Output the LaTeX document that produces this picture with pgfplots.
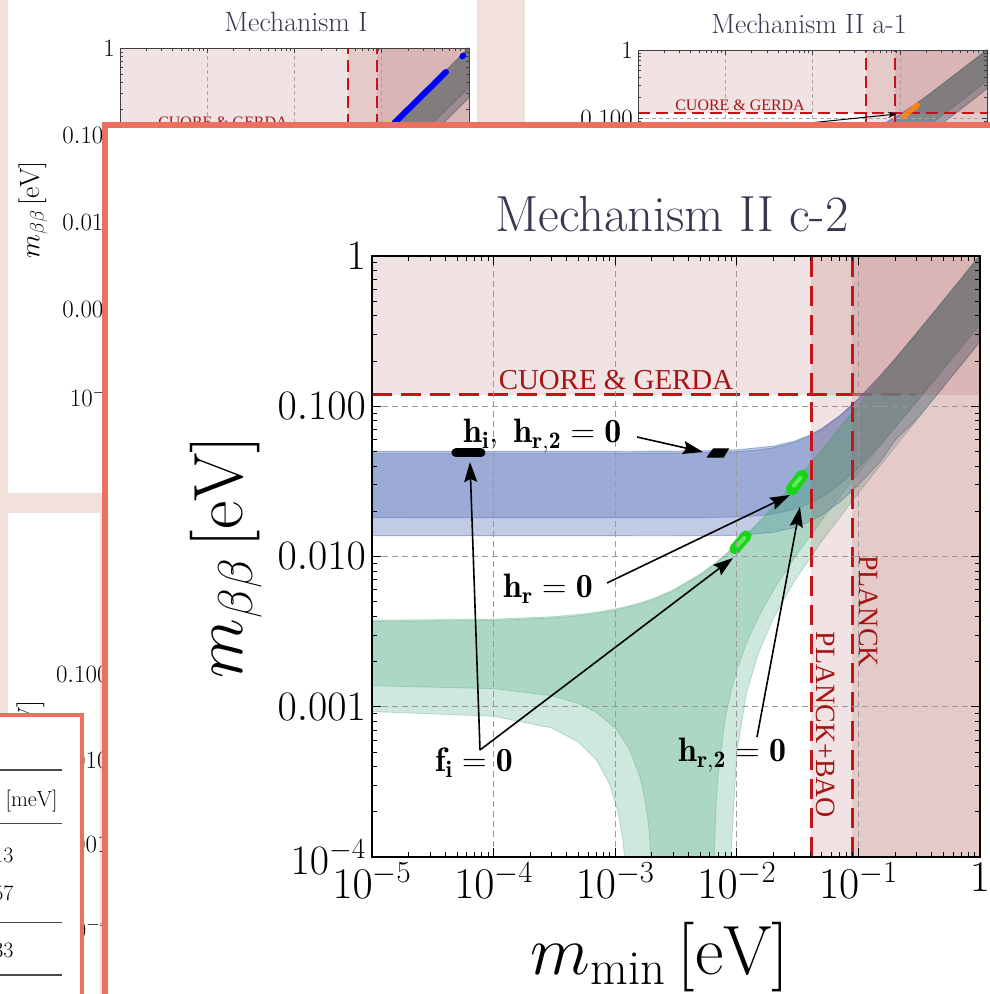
\RequirePackage{fix-cm}
\documentclass[border=0pt]{standalone}
\usepackage{fontspec}
\usepackage{pgfplots}
\pgfplotsset{compat=1.18}
\usepackage{pgfplotstable}
\usetikzlibrary{arrows.meta}
\newfontfamily\timesf{Liberation Serif}
\newcommand{\fsz}[1]{\fontsize{#1}{#1}\selectfont}

\definecolor{bgpink}{RGB}{242,224,218}
\definecolor{frameor}{RGB}{236,112,96}
\definecolor{limc}{RGB}{150,40,40}
\definecolor{limred}{RGB}{195,20,25}
\definecolor{limfade}{RGB}{185,120,110}
\definecolor{iocol}{RGB}{100,125,190}
\definecolor{nocol}{RGB}{80,170,130}
\definecolor{titlec}{RGB}{55,55,80}
\definecolor{cuoretext}{RGB}{165,20,20}
\definecolor{blobgreen}{RGB}{25,212,25}
\definecolor{blobgreenl}{RGB}{95,235,95}
\definecolor{blobor}{RGB}{255,128,20}

\pgfplotstableread{
x y
1e-5 0.0036945
1e-4 0.003756
3e-4 0.0038938
5e-4 0.004033
7e-4 0.0041735
1e-3 0.0043868
1.3e-3 0.0046031
1.6e-3 0.0048224
1.9e-3 0.0050447
2.1e-3 0.0051944
3e-3 0.0058856
5e-3 0.007501
6.6e-3 0.0088598
8e-3 0.0100861
1e-2 0.0118841
1.5e-2 0.0165317
2e-2 0.0213013
3e-2 0.0310078
5e-2 0.0506931
0.1 0.1003807
0.2 0.2001962
0.5 0.5000792
1 1.0000397
1 0.3639603
0.5 0.1819208
0.2 0.0726038
0.1 0.0360193
5e-2 0.0175069
3e-2 0.0099122
2e-2 0.0059787
1.5e-2 0.0039283
1.2e-2 0.0026456
1e-2 0.0017559
9e-3 0.0012967
8e-3 0.0008259
7e-3 0.0003409
6.8e-3 0.0002422
6.6e-3 0.0001426
6.45e-3 0.00005
2.05e-3 0.00005
1.9e-3 0.0001531
1.75e-3 0.0002462
1.6e-3 0.00034
1.3e-3 0.0005299
1e-3 0.0007228
7e-4 0.0009187
5e-4 0.001051
3e-4 0.0011846
1e-4 0.0013197
1e-5 0.0013809
}\NOdark

\pgfplotstableread{
x y
1e-5 0.003768
1e-4 0.003831
3e-4 0.003972
5e-4 0.004114
7e-4 0.004257
1e-3 0.004475
1.3e-3 0.004695
1.6e-3 0.004919
1.9e-3 0.005146
2.1e-3 0.005298
3e-3 0.006003
5e-3 0.007651
6.6e-3 0.009037
8e-3 0.010288
1e-2 0.012122
1.5e-2 0.016862
2e-2 0.021727
3e-2 0.031628
5e-2 0.051707
0.1 0.102388
0.2 0.2042
0.5 0.510081
1 1.02004
1 0.2694544
0.5 0.1346591
0.2 0.0536746
0.1 0.0265127
5e-2 0.0126781
3e-2 0.006923
2e-2 0.0038833
1.5e-2 0.0022625
1.2e-2 0.0012269
1e-2 0.0004951
9e-3 0.0001122
8.8e-3 0.00005
1.3e-3 0.00005
1.15e-3 0.0001349
1.05e-3 0.0002029
9e-4 0.0003054
7e-4 0.0004433
5e-4 0.0005825
3e-4 0.0007229
1e-4 0.0008646
1e-5 0.0009288
}\NOlight

\pgfplotstableread{
x y
1e-5 0.050087
1e-3 0.050119
5e-3 0.050435
1e-2 0.051253
2e-2 0.054211
3e-2 0.058708
4e-2 0.064434
5e-2 0.071099
7e-2 0.086366
0.1 0.11208
0.15 0.158316
0.2 0.206315
0.5 0.502569
1 1.00129
1 0.269123
0.5 0.135046
0.3 0.081713
0.2 0.059359
0.15 0.04243
0.1 0.029959
7e-2 0.023017
5e-2 0.018904
4e-2 0.017124
3e-2 0.015621
2e-2 0.014493
1e-2 0.013848
5e-3 0.013738
1e-3 0.01376
1e-5 0.01378
}\IOlight

\pgfplotstableread{
x y
1e-5 0.04864
1e-3 0.048666
3e-3 0.048788
5e-3 0.048989
1e-2 0.049827
1.5e-2 0.051128
2e-2 0.052859
3e-2 0.057459
4e-2 0.063295
5e-2 0.070067
7e-2 0.085517
0.1 0.111425
0.15 0.157853
0.2 0.205953
0.3 0.304007
0.5 0.502414
0.7 0.70173
1 1.00121
1 0.35005
0.7 0.24535
0.5 0.175686
0.3 0.106353
0.2 0.072107
0.15 0.055327
0.1 0.039163
7e-2 0.030187
5e-2 0.024885
4e-2 0.022593
3e-2 0.020655
2e-2 0.019189
1.5e-2 0.018674
1e-2 0.018325
5e-3 0.018153
3e-3 0.018136
1e-3 0.01815
1e-5 0.01817
}\IOdark

\newcommand{\drawbands}{%
  \addplot[fill=iocol, fill opacity=0.4, draw=iocol, draw opacity=0.55, line width=0.9bp] table {\IOlight};
  \addplot[fill=iocol, fill opacity=0.4, draw=iocol, draw opacity=0.55, line width=0.9bp] table {\IOdark};
  \addplot[fill=nocol, fill opacity=0.27, draw=nocol, draw opacity=0.35, line width=0.8bp] table {\NOlight};
  \addplot[fill=nocol, fill opacity=0.27, draw=nocol, draw opacity=0.35, line width=0.8bp] table {\NOdark};
}
\newcommand{\drawlimits}{%
  \addplot[fill=limc, fill opacity=0.13, draw=none] coordinates {(1e-5,0.119)(1,0.119)(1,1)(1e-5,1)};
  \addplot[fill=limc, fill opacity=0.13, draw=none] coordinates {(0.041,1e-4)(1,1e-4)(1,1)(0.041,1)};
  \addplot[fill=limc, fill opacity=0.13, draw=none] coordinates {(0.089,1e-4)(1,1e-4)(1,1)(0.089,1)};
}
\tikzset{smalllines/.style={draw=limred, line width=2bp, dash pattern=on 12bp off 6bp},
  annarrow/.style={black, line width=1.6bp, -{Stealth[length=20bp,width=13bp,inset=3bp]}}}

\begin{document}
\begin{tikzpicture}
\useasboundingbox (0bp,0bp) rectangle (990bp,994bp);
\clip (0bp,0bp) rectangle (990bp,994bp);
\fill[bgpink] (0bp,0bp) rectangle (990bp,994bp);
\fill[white] (8bp,501bp) rectangle (477bp,1000bp);
\fill[white] (525bp,600bp) rectangle (1000bp,1000bp);
\fill[white] (8bp,-5bp) rectangle (100bp,481bp);

% ---------- top-left panel (Mechanism I) ----------
\node[anchor=base, text=titlec, font=\fsz{28}] at (296bp,962bp) {Mechanism I};
\begin{axis}[at={(120bp,598bp)}, anchor=south west, width=349bp, height=348bp,
    scale only axis, xmode=log, ymode=log,
    xmin=1e-4, xmax=1, ymin=1e-4, ymax=1, axis on top,
    grid=major, major grid style={black!35, dash pattern=on 4bp off 3bp, line width=0.5bp},
    tick align=inside, major tick length=5bp, minor tick length=3bp,
    axis line style={black!75, line width=0.8bp}, tick style={black!75, line width=0.5bp},
    xtick={1e-4,1e-3,1e-2,1e-1,1}, xticklabels={},
    ytick={1e-4,1e-3,1e-2,1e-1,1},
    yticklabels={$10^{-4}$,$0.001$,$0.010$,$0.100$,$1$},
    yticklabel style={font=\fsz{25}, inner sep=0pt, anchor=east, xshift=-5bp}]
  \drawbands
  \drawlimits
  \addplot[smalllines] coordinates {(1e-4,0.119)(1,0.119)};
  \addplot[smalllines] coordinates {(0.041,1e-4)(0.041,1)};
  \addplot[smalllines] coordinates {(0.089,1e-4)(0.089,1)};
  \addplot[blue, line width=6bp, line cap=round] coordinates {(0.14,0.138)(0.545,0.53)};
  \addplot[blue, line width=6bp, line cap=round] coordinates {(0.84,0.80)(0.86,0.82)};
\end{axis}
\node[rotate=90, font=\fsz{28}] at (33bp,784bp) {$m_{\beta\beta}\,[\mathrm{eV}]$};
\node[anchor=base, text=cuoretext, font=\timesf\fsz{16}] at (223bp,866bp) {CUORE \& GERDA};

% ---------- top-right panel (Mechanism II a-1) ----------
\node[anchor=base, text=titlec, font=\fsz{28}] at (809bp,960bp) {Mechanism II a-1};
\begin{axis}[at={(638bp,672bp)}, anchor=south west, width=349bp, height=272bp,
    scale only axis, xmode=log, ymode=log,
    xmin=1e-4, xmax=1, ymin=1e-4, ymax=1, axis on top,
    grid=major, major grid style={black!35, dash pattern=on 4bp off 3bp, line width=0.5bp},
    tick align=inside, major tick length=5bp, minor tick length=3bp,
    axis line style={black!75, line width=0.8bp}, tick style={black!75, line width=0.5bp},
    xtick={1e-4,1e-3,1e-2,1e-1,1}, xticklabels={},
    ytick={1e-4,1e-3,1e-2,1e-1,1},
    yticklabels={$10^{-4}$,$0.001$,$0.010$,$0.100$,$1$},
    yticklabel style={font=\fsz{25}, inner sep=0pt, anchor=east, xshift=-5bp}]
  \drawbands
  \drawlimits
  \addplot[smalllines] coordinates {(1e-4,0.119)(1,0.119)};
  \addplot[smalllines] coordinates {(0.041,1e-4)(0.041,1)};
  \addplot[smalllines] coordinates {(0.089,1e-4)(0.089,1)};
  \addplot[blobor, line width=5bp, line cap=round] coordinates {(0.108,0.103)(0.16,0.155)};
\end{axis}
\node[anchor=base, text=cuoretext, font=\timesf\fsz{16}] at (740bp,883bp) {CUORE \& GERDA};
\draw[black, line width=1bp, -{Stealth[length=9bp,width=6bp]}] (780bp,868bp) -- (897bp,880bp);

% ---------- bottom-left panel fragments ----------
\node[anchor=east, font=\fsz{25}] at (112bp,320bp) {$0.100$};
\node[anchor=east, font=\fsz{25}] at (112bp,234bp) {$0.010$};
\node[anchor=east, font=\fsz{25}] at (112bp,150bp) {$0.001$};
\node[anchor=east, font=\fsz{25}] at (112bp,66bp) {$10^{-4}$};
\node[rotate=90, font=\fsz{28}] at (31bp,245bp) {$m_{\beta\beta}\,[\mathrm{eV}]$};

% ---------- table panel ----------
\fill[white] (-10bp,-10bp) rectangle (82bp,279bp);
\draw[frameor, line width=4bp] (-10bp,-10bp) rectangle (82bp,279bp);
\draw[black!70, line width=1.3bp] (-5bp,224bp) -- (62bp,224bp);
\draw[black!70, line width=0.7bp] (-5bp,171bp) -- (62bp,171bp);
\draw[black!70, line width=0.7bp] (-5bp,72bp) -- (62bp,72bp);
\draw[black!70, line width=1.3bp] (-5bp,19bp) -- (62bp,19bp);
\node[anchor=east, font=\fsz{22}] at (61bp,193bp) {$[\mathrm{meV}]$};
\node[anchor=east, font=\fsz{22}] at (17bp,139bp) {$13$};
\node[anchor=east, font=\fsz{22}] at (17bp,101bp) {$57$};
\node[anchor=east, font=\fsz{22}] at (17bp,44bp) {$33$};

% ---------- main panel ----------
\fill[white] (105bp,-10bp) rectangle (1005bp,869bp);
\draw[frameor, line width=6bp] (105bp,-10bp) rectangle (1005bp,869bp);

\node[anchor=base, text=titlec, font=\fsz{51}] at (672bp,762bp) {Mechanism II c-2};

\begin{axis}[
  at={(372bp,137bp)}, anchor=south west, width=608bp, height=601bp, scale only axis,
  xmode=log, ymode=log, xmin=1e-5, xmax=1, ymin=1e-4, ymax=1,
  axis on top,
  axis line style={black, line width=1.2bp},
  tick style={black, line width=0.8bp},
  major tick length=9bp, minor tick length=5bp,
  tick align=inside,
  grid=major, major grid style={black!40, dash pattern=on 6bp off 4bp, line width=0.8bp},
  xtick={1e-5,1e-4,1e-3,1e-2,1e-1,1},
  xticklabels={$10^{-5}$,$10^{-4}$,$10^{-3}$,$10^{-2}$,$10^{-1}$,$1$},
  ytick={1e-4,1e-3,1e-2,1e-1,1},
  yticklabels={$10^{-4}$,$0.001$,$0.010$,$0.100$,$1$},
  xticklabel style={font=\fsz{44}, inner sep=0pt, anchor=north, yshift=-6bp},
  yticklabel style={font=\fsz{42}, inner sep=0pt, anchor=east, xshift=-6bp}]
  \addplot[limfade, line width=3bp, dash pattern=on 20bp off 9bp] coordinates {(0.089,0.119)(0.3,0.119)};
  \drawbands
  \drawlimits
  \addplot[limred, line width=3bp, dash pattern=on 20bp off 9bp] coordinates {(1e-5,0.119)(0.089,0.119)};
  \addplot[limred, line width=3bp, dash pattern=on 20bp off 9bp] coordinates {(0.041,1e-4)(0.041,1)};
  \addplot[limred, line width=3bp, dash pattern=on 20bp off 9bp] coordinates {(0.089,1e-4)(0.089,1)};
  \addplot[black, line width=9bp, line cap=round] coordinates {(4.9e-5,0.0489)(7.87e-5,0.0489)};
  \addplot[fill=black, draw=black, line width=1bp] coordinates {(5.71e-3,0.0458)(7.74e-3,0.0458)(8.51e-3,0.0520)(6.42e-3,0.0520)(5.71e-3,0.0458)};
  \addplot[blobgreen, line width=12bp, line cap=round] coordinates {(0.02844,0.02818)(0.03436,0.03436)};
  \addplot[blobgreenl, line width=4bp, line cap=round] coordinates {(0.0295,0.0296)(0.0333,0.0333)};
  \addplot[blobgreen, line width=11bp, line cap=round] coordinates {(0.00966,0.01124)(0.01191,0.01371)};
  \addplot[blobgreenl, line width=4bp, line cap=round] coordinates {(0.0101,0.0118)(0.0115,0.0133)};
\end{axis}

\node[anchor=base, text=cuoretext, font=\timesf\fsz{29}] at (616bp,604bp) {CUORE \& GERDA};
\node[rotate=-90, text=cuoretext, font=\timesf\fsz{28}] at (869bp,383bp) {PLANCK};
\node[rotate=-90, text=cuoretext, font=\timesf\fsz{28}] at (826bp,269bp) {PLANCK+BAO};

\node[rotate=90, font=\fsz{70}] at (226bp,437bp) {$m_{\beta\beta}\,[\mathrm{eV}]$};
\node[font=\fsz{70}] at (660bp,37bp) {$m_{\mathrm{min}}\,[\mathrm{eV}]$};

\draw[annarrow] (637bp,557bp) -- (703bp,542bp);
\draw[annarrow] (480bp,244bp) -- (470bp,532bp);
\draw[annarrow] (480bp,244bp) -- (733bp,436bp);
\draw[annarrow] (607bp,411bp) -- (790bp,499bp);
\draw[annarrow] (757bp,257bp) -- (800bp,487bp);
\node[anchor=base west, inner sep=0pt, font=\fsz{34}] at (463bp,551bp) {$\mathbf{h}_{\mathbf{i}},\;\mathbf{h}_{\mathbf{r,2}}\mathrel{\mathbf{=}}\mathbf{0}$};
\node[anchor=base west, inner sep=0pt, font=\fsz{34}] at (435bp,222bp) {$\mathbf{f}_{\mathbf{i}}\mathrel{\mathbf{=}}\mathbf{0}$};
\node[anchor=base west, inner sep=0pt, font=\fsz{34}] at (503bp,396bp) {$\mathbf{h}_{\mathbf{r}}\mathrel{\mathbf{=}}\mathbf{0}$};
\node[anchor=base west, inner sep=0pt, font=\fsz{34}] at (678bp,232bp) {$\mathbf{h}_{\mathbf{r,2}}\mathrel{\mathbf{=}}\mathbf{0}$};
\end{tikzpicture}
\end{document}
